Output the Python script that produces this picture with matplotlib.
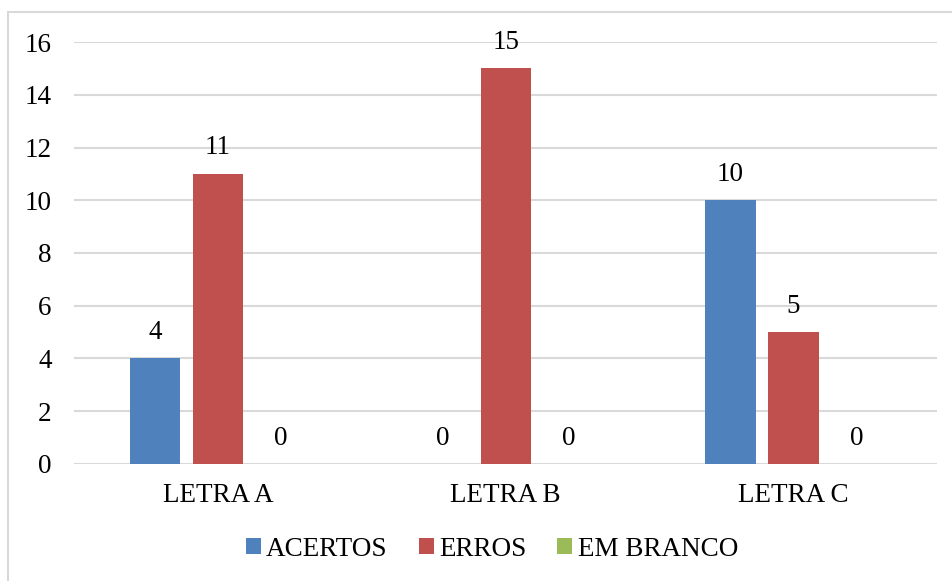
import matplotlib.pyplot as plt
import numpy as np
from matplotlib.patches import Rectangle

categories = ['LETRA A', 'LETRA B', 'LETRA C']
acertos = [4, 0, 10]
erros = [11, 15, 5]
em_branco = [0, 0, 0]

series = [('ACERTOS', acertos, '#4F81BD'),
          ('ERROS', erros, '#C0504D'),
          ('EM BRANCO', em_branco, '#9BBB59')]

plt.rcParams['font.family'] = ['Liberation Serif', 'DejaVu Serif']
plt.rcParams['font.size'] = 19.5

fig = plt.figure(figsize=(9.52, 5.81), dpi=100)
ax = fig.add_axes([0.0777, 0.2014, 0.907, 0.7263])

# light frame around the chart area
fig.patches.append(Rectangle((8 / 952, -0.05), 1.2, 1 - 12 / 581 + 0.05,
                             transform=fig.transFigure, fill=False,
                             edgecolor='#D9D9D9', linewidth=1.5))

x = np.arange(len(categories))
width = 0.175
step = 0.219
for i, (name, vals, color) in enumerate(series):
    pos = x + (i - 1) * step
    ax.bar(pos, vals, width, color=color, label=name, zorder=3)
    for p, v in zip(pos, vals):
        ax.annotate(str(v), (p, v), xytext=(0, 14), textcoords='offset points',
                    ha='center', va='baseline')

ax.set_xlim(-0.5, 2.5)
ax.set_ylim(0, 16)
ax.set_yticks(range(0, 17, 2))
ax.set_xticks(x)
ax.set_xticklabels(categories)
ax.grid(axis='y', color='#D9D9D9', linewidth=1.5, zorder=0)
ax.tick_params(axis='both', length=0)
ax.tick_params(axis='y', pad=16)
ax.tick_params(axis='x', pad=14)
for s in ax.spines.values():
    s.set_visible(False)

fig.legend(loc='center', bbox_to_anchor=(492 / 952, 1 - 549 / 581), ncol=3,
           frameon=False, handlelength=0.55, handleheight=0.55,
           handletextpad=0.2, columnspacing=1.15)

fig.savefig('out.png', dpi=100)
